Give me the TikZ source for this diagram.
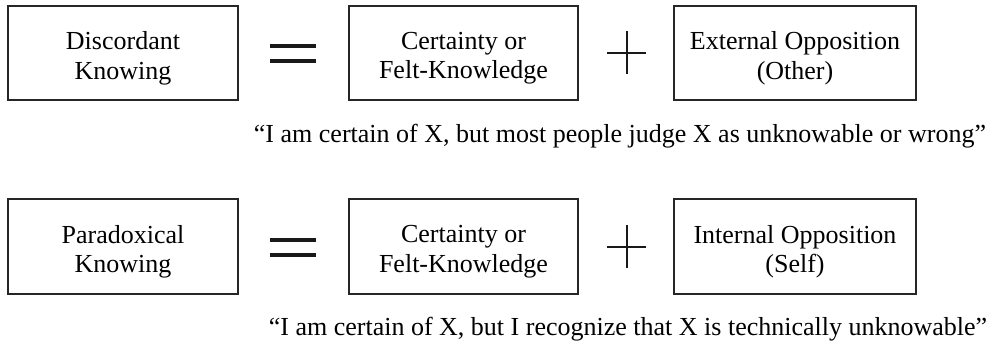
\documentclass[tikz,border=0pt]{standalone}
\usepackage{fontspec}
\setmainfont{Liberation Serif}
\begin{document}
\begin{tikzpicture}[x=0.75pt,y=-0.75pt,
  txt/.style={font=\fontsize{19.5}{22}\selectfont},
  termbox/.style={draw=black!85,line width=1pt,inner sep=0pt,minimum height=94*0.75pt,
    label={[txt,align=center,inner sep=0pt,yshift=-4pt]center:{#1}}},
  quote/.style={txt,anchor=base,inner sep=0pt},
  sym/.style={line width=#1,black!90}]
\useasboundingbox (0,0) rectangle (995,346);
% row 1
\node[termbox={Discordant\\Knowing},minimum width=230*0.75pt] (dk) at (123,53) {};
\node[termbox={Certainty or\\Felt-Knowledge},minimum width=229*0.75pt] (c1) at (463.5,53) {};
\node[termbox={External Opposition\\(Other)},minimum width=242*0.75pt] (eo) at (795,53) {};
\coordinate (eq1) at (293,53);
\coordinate (pl1) at (626.5,53);
\draw[sym=3pt] ([xshift=-23*0.75pt,yshift=7*0.75pt]eq1) -- ([xshift=23*0.75pt,yshift=7*0.75pt]eq1);
\draw[sym=3pt] ([xshift=-23*0.75pt,yshift=-8*0.75pt]eq1) -- ([xshift=23*0.75pt,yshift=-8*0.75pt]eq1);
\draw[sym=1.5pt] ([xshift=-19.5*0.75pt]pl1) -- ([xshift=19.5*0.75pt]pl1);
\draw[sym=1.5pt] ([yshift=21.5*0.75pt]pl1) -- ([yshift=-21.5*0.75pt]pl1);
\node[quote] (q1) at (620,142) {“I am certain of X, but most people judge X as unknowable or wrong”};
% row 2
\node[termbox={Paradoxical\\Knowing},minimum width=230*0.75pt,minimum height=95*0.75pt] (pk) at (123,246.5) {};
\node[termbox={Certainty or\\Felt-Knowledge},minimum width=229*0.75pt,minimum height=95*0.75pt] (c2) at (463.5,246.5) {};
\node[termbox={Internal Opposition\\(Self)},minimum width=242*0.75pt,minimum height=95*0.75pt] (io) at (795,246.5) {};
\coordinate (eq2) at (293,246.5);
\coordinate (pl2) at (626.5,246.5);
\draw[sym=3pt] ([xshift=-23*0.75pt,yshift=7*0.75pt]eq2) -- ([xshift=23*0.75pt,yshift=7*0.75pt]eq2);
\draw[sym=3pt] ([xshift=-23*0.75pt,yshift=-8*0.75pt]eq2) -- ([xshift=23*0.75pt,yshift=-8*0.75pt]eq2);
\draw[sym=1.5pt] ([xshift=-19.5*0.75pt]pl2) -- ([xshift=19.5*0.75pt]pl2);
\draw[sym=1.5pt] ([yshift=21.5*0.75pt]pl2) -- ([yshift=-21.5*0.75pt]pl2);
\node[quote] (q2) at (628,335) {“I am certain of X, but I recognize that X is technically unknowable”};
\end{tikzpicture}
\end{document}
